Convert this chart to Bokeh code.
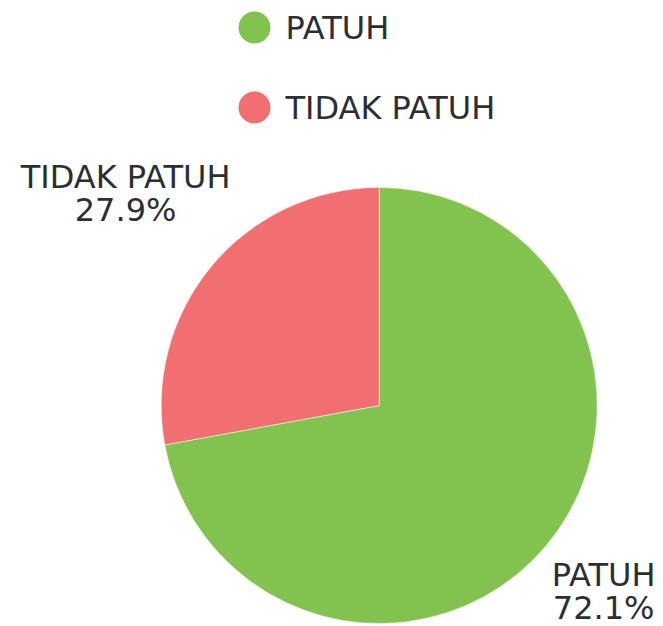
import math
from bokeh.plotting import figure
from bokeh.models import Range1d, ColumnDataSource
from bokeh.core.properties import value
from bokeh.embed import file_html
from bokeh.resources import INLINE

categories = ["PATUH", "TIDAK PATUH"]
percents = [72.1, 27.9]
colors = ["#81C34E", "#F16F71"]

W, H = 663, 626
FONT = "DejaVu Sans"
TXT = "#2B2E33"
FS = "32px"

p = figure(width=W, height=H, output_backend="svg", toolbar_location=None,
           x_range=Range1d(0, W), y_range=Range1d(0, H), min_border=0)
p.axis.visible = False
p.grid.visible = False
p.outline_line_color = None
p.background_fill_color = "white"

cx, cy, r = 378.7, H - 405.0, 218.0

# wedges clockwise from top
starts, ends, mids = [], [], []
a = math.pi / 2
for v in percents:
    sweep = v / 100 * 2 * math.pi
    starts.append(a)
    ends.append(a - sweep)
    mids.append(a - sweep / 2)
    a -= sweep

src = ColumnDataSource(dict(x=[cx] * 2, y=[cy] * 2, start=starts, end=ends, color=colors))
p.wedge(x="x", y="y", radius=r, start_angle="start", end_angle="end", direction="clock",
        fill_color="color", line_color="white", line_width=0.5, source=src)

# data labels
label_dist = [292, 330]
lx = [cx + d * math.cos(m) for d, m in zip(label_dist, mids)]
ly = [cy + d * math.sin(m) for d, m in zip(label_dist, mids)]
p.text(x=lx, y=[y + 17 for y in ly], text=categories, text_align="center",
       text_baseline="middle", text_font=value(FONT), text_font_size=FS, text_color=TXT)
p.text(x=lx, y=[y - 16 for y in ly], text=[f"{v:.1f}%" for v in percents], text_align="center",
       text_baseline="middle", text_font=value(FONT), text_font_size=FS, text_color=TXT)

# legend
leg_y = [H - 27, H - 107]
p.scatter(x=[254, 254], y=leg_y, size=32, color=colors, line_color=None)
p.text(x=[285, 285], y=leg_y, text=categories, text_align="left", text_baseline="middle",
       text_font=value(FONT), text_font_size=FS, text_color=TXT)

open("out.html", "w").write(file_html(p, INLINE))
